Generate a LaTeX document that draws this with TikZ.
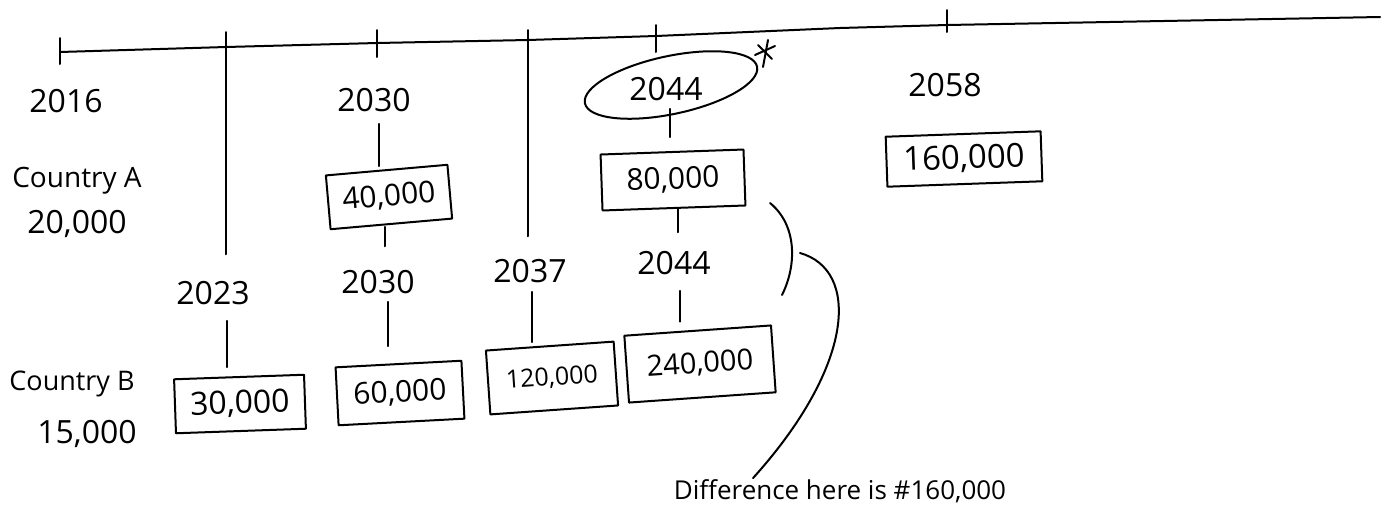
\documentclass[tikz,border=0pt]{standalone}
\usepackage{fontspec}
\setmainfont{Open Sans}
\usetikzlibrary{shapes.geometric}
\begin{document}
\begin{tikzpicture}[x=1pt,y=-1pt,line width=2pt,line cap=round,line join=round,
  yr/.style={font=\fontsize{32}{34}\selectfont,inner sep=0pt},
  lab/.style={font=\fontsize{28}{30}\selectfont,inner sep=0pt},
  valbox/.style={draw,inner sep=0pt,font=\fontsize{30}{32}\selectfont}]
\useasboundingbox (0,0) rectangle (1388,531);
% timeline
\coordinate (t2016) at (60,52);
\coordinate (t2023) at (226,32);
\coordinate (t2030) at (377,43);
\coordinate (t2037) at (528,30);
\coordinate (t2044) at (656,36);
\coordinate (t2058) at (947,25);
\coordinate (tend) at (1380,17);
\draw (t2016) -- (226,47) -- (t2030) -- (528,40) -- (t2044) -- (840,28) -- (t2058) -- (tend);
% ticks
\draw ([yshift=14pt]t2016) -- ([yshift=-12pt]t2016);
\draw ([yshift=13pt]t2030) -- ([yshift=-14pt]t2030);
\draw ([yshift=11pt]t2044) -- ([yshift=-16pt]t2044);
\draw ([yshift=15pt]t2058) -- ([yshift=-7pt]t2058);
% Country A column
\node[yr] (y2016) at (66,101) {2016};
\node[lab,anchor=base] (ctyA) at (77,187) {Country A};
\node[lab,font=\fontsize{32}{34}\selectfont,anchor=base] (valA0) at (77,233) {20,000};
% Country A values
\node[yr] (ya2030) at (374,100) {2030};
\node[valbox,minimum width=122,minimum height=54,rotate=5] (b40) at (389,197) {40,000};
\node[draw,ellipse,inner sep=0pt,minimum width=176,minimum height=58,rotate=12] (e2044) at (671,85) {};
\node[yr] (ya2044) at (666,89) {2044};
\node[valbox,minimum width=143,minimum height=56,rotate=2] (b80) at (673,180) {80,000};
\node[yr] (y2058) at (945,85) {2058};
\node[valbox,font=\fontsize{33}{35}\selectfont,minimum width=155,minimum height=50,rotate=2] (b160) at (964,159) {160,000};
% Country B column
\node[lab,font=\fontsize{27}{29}\selectfont,anchor=base] (ctyB) at (72,390) {Country B};
\node[lab,font=\fontsize{32}{34}\selectfont,anchor=base] (valB0) at (87,443) {15,000};
% Country B values
\node[yr] (yb2023) at (213,293) {2023};
\node[yr] (yb2030) at (378,282) {2030};
\node[yr] (yb2037) at (530,271) {2037};
\node[yr] (yb2044) at (674,263) {2044};
\node[valbox,font=\fontsize{32}{34}\selectfont,minimum width=130,minimum height=54,rotate=2] (b30) at (240,404) {30,000};
\node[valbox,minimum width=126,minimum height=58,rotate=3] (b60) at (400,393) {60,000};
\node[valbox,font=\fontsize{25}{27}\selectfont,minimum width=128,minimum height=64,rotate=4] (b120) at (552,378) {120,000};
\node[valbox,font=\fontsize{29}{31}\selectfont,minimum width=147,minimum height=67,rotate=4] (b240) at (700,364) {240,000};
% connectors
\draw[shorten <=11pt,shorten >=3pt] ([xshift=5pt]ya2030.south) -- ([xshift=5pt]ya2030.south |- b40.north);
\draw[shorten <=2pt,shorten >=23pt] ([xshift=-6pt]b40.south) -- ([xshift=-6pt]b40.south |- yb2030.north);
\draw[shorten <=7pt,shorten >=14pt] ([xshift=4pt]ya2044.south) -- ([xshift=4pt]ya2044.south |- b80.north);
\draw[shorten <=0pt,shorten >=18pt] ([xshift=4pt]b80.south) -- ([xshift=4pt]b80.south |- yb2044.north);
\draw[shorten >=26pt] (t2023) -- (t2023 |- yb2023.north);
\draw[shorten >=22pt] (t2037) -- (t2037 |- yb2037.north);
\draw[shorten <=15pt,shorten >=9pt] ([xshift=14pt]yb2023.south) -- ([xshift=14pt]yb2023.south |- b30.north);
\draw[shorten <=7pt,shorten >=17pt] ([xshift=10pt]yb2030.south) -- ([xshift=10pt]yb2030.south |- b60.north);
\draw[shorten <=8pt,shorten >=3pt] ([xshift=2pt]yb2037.south) -- ([xshift=2pt]yb2037.south |- b120.north);
\draw[shorten <=15pt,shorten >=8pt] ([xshift=6pt]yb2044.south) -- ([xshift=6pt]yb2044.south |- b240.north);
% star mark
\draw (768,40) -- (763,67);
\draw (755,55) -- (775,46);
\draw (758,45) -- (772,59);
% brackets
\node[lab,font=\fontsize{26}{28}\selectfont,anchor=base] (diff) at (840,499) {Difference here is \#160,000};
\draw (770,203) .. controls (797,225) and (797,265) .. (782,295);
\draw (800,253) .. controls (860,270) and (855,365) .. (diff.north west -| 753,0);
\end{tikzpicture}
\end{document}
